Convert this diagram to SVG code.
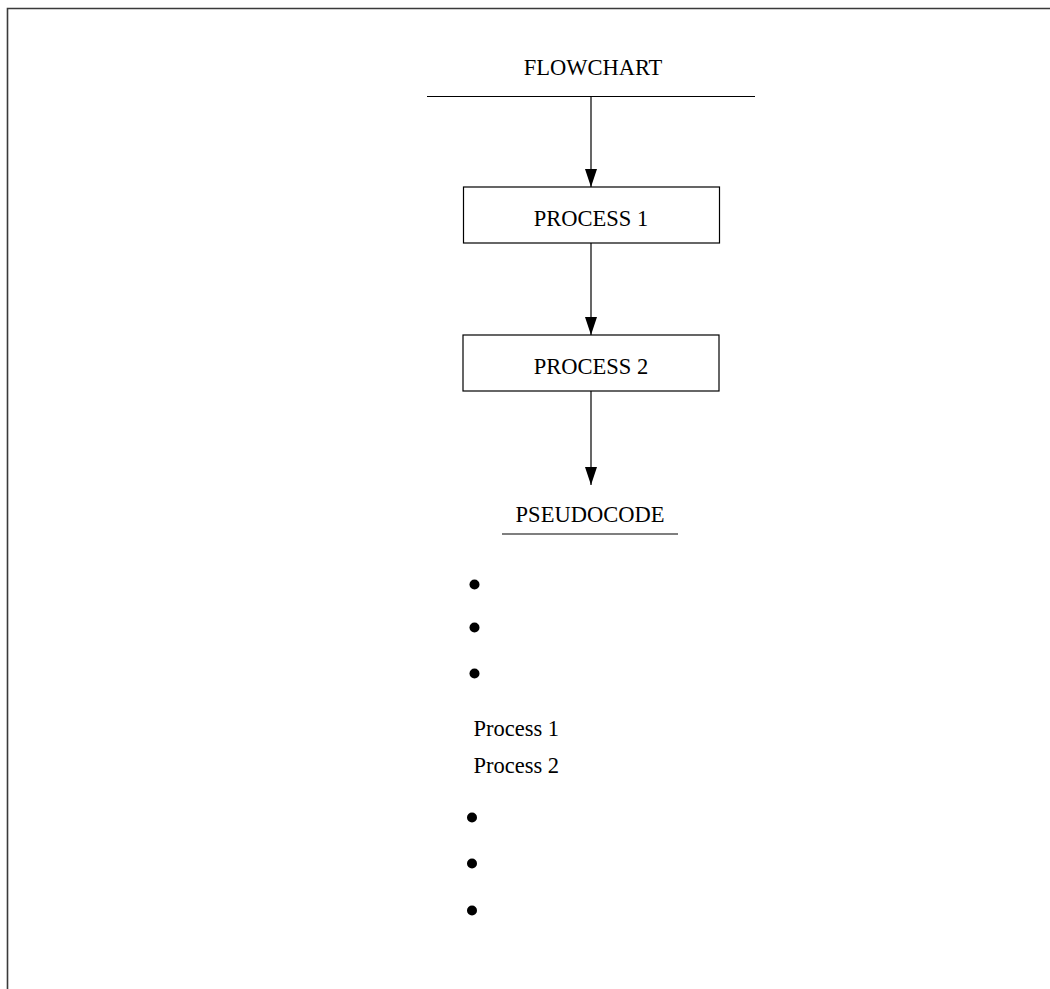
<svg xmlns="http://www.w3.org/2000/svg" width="1050" height="989" viewBox="0 0 1050 989">
<style>
text{font-family:"Liberation Serif","Times New Roman",serif;font-size:22.5px;fill:#000}
.c{text-anchor:middle}
.box{fill:#fff;stroke:#000;stroke-width:1.2}
.ln{stroke:#000;stroke-width:1.2;fill:none}
.conn line{stroke:#000;stroke-width:1.2}
.dot{fill:#000}
</style>
<defs>
<marker id="ah" markerUnits="userSpaceOnUse" markerWidth="18" markerHeight="12" refX="18" refY="6" orient="auto" viewBox="0 0 18 12">
<path d="M0 0 L18 6 L0 12 Z" fill="#000"/>
</marker>
</defs>
<rect width="1050" height="989" fill="#fff"/>
<path d="M7.5 989 V8.5 H1050" fill="none" stroke="#3a3a3a" stroke-width="1.6"/>
<g id="flowchart">
<text class="c" x="593" y="74.5">FLOWCHART</text>
<line class="ln" x1="427" y1="96.5" x2="755" y2="96.5"/>
</g>
<g id="process1">
<rect class="box" x="463.5" y="187" width="256" height="56"/>
<text class="c" x="591" y="226">PROCESS 1</text>
</g>
<g id="process2">
<rect class="box" x="463" y="335" width="256" height="56"/>
<text class="c" x="591" y="373.5">PROCESS 2</text>
</g>
<g id="pseudocode">
<text class="c" x="590" y="521.5">PSEUDOCODE</text>
<line class="ln" x1="502" y1="534" x2="678" y2="534"/>
</g>
<g id="bullets">
<circle class="dot" cx="474.5" cy="584.5" r="5"/>
<circle class="dot" cx="474.5" cy="627.5" r="5"/>
<circle class="dot" cx="474.5" cy="673.5" r="5"/>
<text x="473.5" y="736">Process 1</text>
<text x="473.5" y="773">Process 2</text>
<circle class="dot" cx="472" cy="817.5" r="5"/>
<circle class="dot" cx="472" cy="863.5" r="5"/>
<circle class="dot" cx="472" cy="910.5" r="5"/>
</g>
<g class="conn" id="connectors">
<line x1="591" y1="96.5" x2="591" y2="187" marker-end="url(#ah)"/>
<line x1="591" y1="243" x2="591" y2="335" marker-end="url(#ah)"/>
<line x1="591" y1="391" x2="591" y2="485" marker-end="url(#ah)"/>
</g>
</svg>
